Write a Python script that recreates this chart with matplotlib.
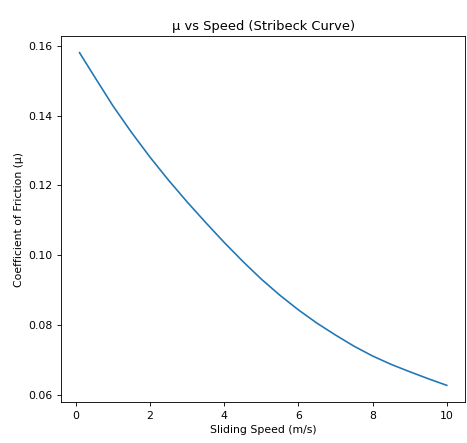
import matplotlib
matplotlib.use("Agg")
import matplotlib.pyplot as plt

speed = [0.1, 0.5, 1.0, 1.5, 2.0, 2.5, 3.0, 3.5, 4.0, 4.5, 5.0,
         5.5, 6.0, 6.5, 7.0, 7.5, 8.0, 8.5, 9.0, 9.5, 10.0]
mu = [0.1580, 0.1512, 0.1428, 0.1352, 0.1281, 0.1215, 0.1153, 0.1094, 0.1037, 0.0983, 0.0932,
      0.0886, 0.0844, 0.0806, 0.0772, 0.0740, 0.0712, 0.0688, 0.0667, 0.0647, 0.0628]
xticks = [0, 2, 4, 6, 8, 10]
yticks = [0.06, 0.08, 0.10, 0.12, 0.14, 0.16]

s = 0.78
fig = plt.figure(figsize=(4.67, 4.43), dpi=100)
ax = fig.add_axes([0.131, 0.0926, 0.865, 0.826])
ax.plot(speed, mu, color="#1f77b4", lw=1.5 * s)
ax.set_xticks(xticks)
ax.set_yticks(yticks)
ax.set_yticklabels([f"{v:.2f}" for v in yticks])
ax.tick_params(labelsize=10 * s, length=3.5 * s, width=0.8 * s)
for sp in ax.spines.values():
    sp.set_linewidth(0.8 * s)
ax.set_xlabel("Sliding Speed (m/s)", fontsize=10 * s, labelpad=4 * s)
ax.set_ylabel("Coefficient of Friction (μ)", fontsize=10 * s, labelpad=4 * s)
ax.set_title("μ vs Speed (Stribeck Curve)", fontsize=12 * s, pad=6 * s)
fig.savefig("out.png", dpi=100)
